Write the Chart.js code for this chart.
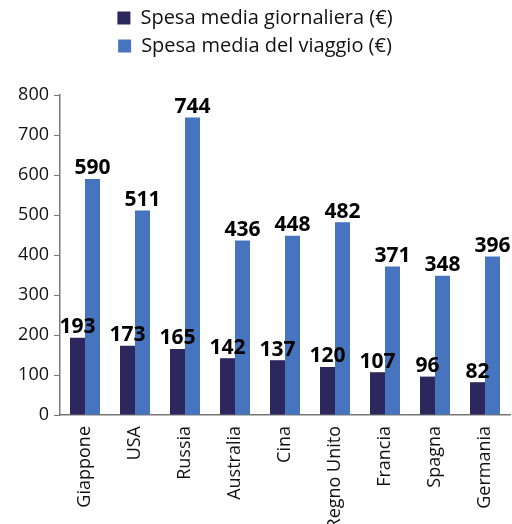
<!DOCTYPE html>
<html>
<head>
<meta charset="utf-8">
<script src="https://cdn.jsdelivr.net/npm/chart.js@4"></script>
<style>
  html, body { margin: 0; padding: 0; background: #fff; overflow: hidden; }
  #wrap { width: 512px; height: 524px; }
</style>
</head>
<body>
<div id="wrap"><canvas id="spesaChart"></canvas></div>
<script>
const paesi = ['Giappone', 'USA', 'Russia', 'Australia', 'Cina', 'Regno Unito', 'Francia', 'Spagna', 'Germania'];
const spesaGiornaliera = [193, 173, 165, 142, 137, 120, 107, 96, 82];
const spesaViaggio = [590, 511, 744, 436, 448, 482, 371, 348, 396];
const yTicks = [0, 100, 200, 300, 400, 500, 600, 700, 800];

const FONT = '"Open Sans", "Noto Sans", sans-serif';

// numbers above each bar
const valueLabels = {
    id: 'valueLabels',
    afterDatasetsDraw(chart) {
        const ctx = chart.ctx;
        ctx.save();
        ctx.font = 'bold 21px ' + FONT;
        ctx.fillStyle = '#000';
        ctx.textAlign = 'center';
        ctx.textBaseline = 'bottom';
        chart.data.datasets.forEach((ds, i) => {
            chart.getDatasetMeta(i).data.forEach((bar, j) => {
                ctx.fillText(ds.data[j], bar.x, bar.y);
            });
        });
        ctx.restore();
    }
};

// extra space under the legend
const legendGap = {
    id: 'legendGap',
    beforeInit(chart) {
        const fit = chart.legend.fit;
        chart.legend.fit = function () {
            fit.bind(chart.legend)();
            this.height += 29;
        };
    }
};

new Chart(document.getElementById('spesaChart'), {
    type: 'bar',
    data: {
        labels: paesi,
        datasets: [{
            label: 'Spesa media giornaliera (€)',
            data: spesaGiornaliera,
            backgroundColor: '#2c275c'
        }, {
            label: 'Spesa media del viaggio (€)',
            data: spesaViaggio,
            backgroundColor: '#4674bf'
        }]
    },
    options: {
        responsive: true,
        maintainAspectRatio: false,
        animation: false,
        layout: { padding: { left: 0, right: 2, top: 0, bottom: 0 } },
        datasets: {
            bar: { categoryPercentage: 0.6, barPercentage: 1.0 }
        },
        plugins: {
            tooltip: { enabled: false },
            legend: {
                position: 'top',
                labels: {
                    font: { family: FONT, size: 20 },
                    color: '#111',
                    boxWidth: 13,
                    boxHeight: 13,
                    padding: 8
                }
            }
        },
        scales: {
            x: {
                grid: { display: false },
                border: { display: true, color: '#777', width: 1.5 },
                ticks: {
                    color: '#111',
                    font: { family: FONT, size: 18 },
                    minRotation: 90,
                    maxRotation: 90,
                    autoSkip: false
                },
                afterFit(scale) { scale.height = 109; }
            },
            y: {
                min: 0,
                max: 800,
                afterBuildTicks(scale) { scale.ticks = yTicks.map(v => ({ value: v })); },
                grid: { drawOnChartArea: false, drawTicks: true, tickLength: 6, color: '#777' },
                border: { display: true, color: '#777', width: 1.5 },
                ticks: {
                    color: '#111',
                    font: { family: FONT, size: 18 },
                    padding: 5
                },
                afterFit(scale) { scale.width = 60; }
            }
        }
    },
    plugins: [valueLabels, legendGap]
});
</script>
</body>
</html>
